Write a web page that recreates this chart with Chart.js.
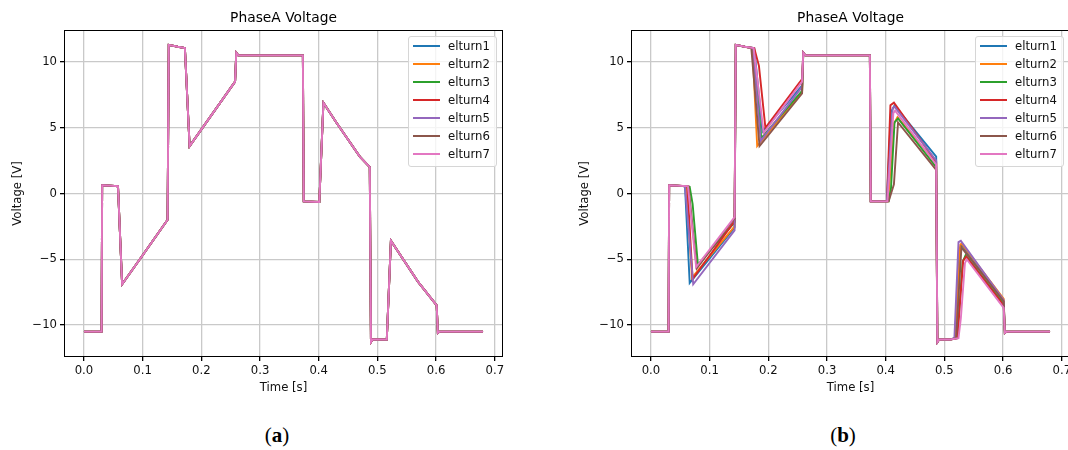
<!DOCTYPE html>
<html>
<head>
<meta charset="utf-8">
<title>PhaseA Voltage</title>
<script src="https://cdn.jsdelivr.net/npm/chart.js@4.4.1/dist/chart.umd.min.js"></script>
<style>
  html, body { margin: 0; padding: 0; background: #fff; overflow: hidden; }
  #page { position: relative; width: 1068px; height: 450px; overflow: hidden; font-family: "DejaVu Sans", sans-serif; }
  .panel { position: absolute; top: 0; width: 534px; height: 399px; }
  .legend { position: absolute; left: 408px; top: 36px; width: 87px; height: 129px;
            border: 1px solid #d6d6d6; border-radius: 3px; background: rgba(255,255,255,0.8); }
  .legend .swatch { position: absolute; left: 4px; width: 27px; height: 2px; }
  .legend .label { position: absolute; left: 39px; font-size: 11.7px; line-height: 14px; color: #111; }
  .caption { position: absolute; top: 423px; font-family: "Liberation Serif", "DejaVu Serif", serif; font-size: 21px; color: #000; transform: translateX(-50%); }
  .caption b { font-weight: bold; }
</style>
</head>
<body>
<div id="page">
  <div class="panel" style="left:0"><canvas id="panel-a"></canvas><div class="legend" id="legend-a"></div></div>
  <div class="panel" style="left:567px"><canvas id="panel-b"></canvas><div class="legend" id="legend-b"></div></div>
  <div class="caption" style="left:277px">(<b>a</b>)</div>
  <div class="caption" style="left:843px">(<b>b</b>)</div>
</div>
<script>
// Tick positions
const xTicks = [0, 0.1, 0.2, 0.3, 0.4, 0.5, 0.6, 0.7];
const yTicks = [-10, -5, 0, 5, 10];

const turnNames = ['elturn1', 'elturn2', 'elturn3', 'elturn4', 'elturn5', 'elturn6', 'elturn7'];
const turnColors = ['#1f77b4', '#ff7f0e', '#2ca02c', '#d62728', '#9467bd', '#8c564b', '#e377c2'];

// (a) every turn gives the same waveform
const baseTime = [0, 0.030, 0.031, 0.045, 0.058, 0.065, 0.100, 0.1425, 0.1445, 0.160, 0.172, 0.180, 0.2575,
  0.2595, 0.263, 0.373, 0.3745, 0.401, 0.408, 0.430, 0.470, 0.487, 0.489, 0.492, 0.516, 0.523, 0.569, 0.601,
  0.603, 0.606, 0.680];
const baseVolt = [-10.5, -10.5, 0.62, 0.60, 0.55, -6.9, -4.7, -2.0, 11.3, 11.15, 11.05, 3.6, 8.5,
  10.7, 10.5, 10.5, -0.6, -0.65, 6.9, 5.4, 2.8, 2.0, -11.3, -11.1, -11.1, -3.6, -6.7, -8.5,
  -10.6, -10.5, -10.5];

// (b) per-turn waveforms
const turn1Time = [0, 0.030, 0.031, 0.045, 0.058, 0.066, 0.1425, 0.1445, 0.160, 0.176, 0.190, 0.2575, 0.2595, 0.263,
  0.373, 0.3745, 0.390, 0.402, 0.409, 0.415, 0.486, 0.488, 0.491, 0.510, 0.518, 0.526, 0.529, 0.601, 0.603, 0.606, 0.680];
const turn1Volt = [-10.5, -10.5, 0.62, 0.60, 0.55, -6.8, -2.6, 11.3, 11.15, 11.05, 4.7, 8.2, 10.7, 10.5,
  10.5, -0.6, -0.6, -0.6, 6.2, 6.7, 2.8, -11.3, -11.1, -11.1, -11.0, -4.2, -3.9, -8.2, -10.6, -10.5, -10.5];

const turn2Time = [0, 0.030, 0.031, 0.045, 0.060, 0.070, 0.1425, 0.1445, 0.160, 0.173, 0.181, 0.2575, 0.2595, 0.263,
  0.373, 0.3745, 0.390, 0.404, 0.414, 0.420, 0.486, 0.488, 0.491, 0.510, 0.519, 0.527, 0.529, 0.601, 0.603, 0.606, 0.680];
const turn2Volt = [-10.5, -10.5, 0.62, 0.60, 0.55, -6.4, -2.5, 11.3, 11.15, 11.05, 3.6, 7.7, 10.7, 10.5,
  10.5, -0.6, -0.6, -0.6, 5.3, 5.8, 2.3, -11.3, -11.1, -11.1, -11.0, -3.9, -3.8, -8.0, -10.6, -10.5, -10.5];

const turn3Time = [0, 0.030, 0.031, 0.045, 0.066, 0.071, 0.080, 0.1425, 0.1445, 0.160, 0.174, 0.188, 0.2575, 0.2595, 0.263,
  0.373, 0.3745, 0.390, 0.405, 0.409, 0.415, 0.421, 0.486, 0.488, 0.491, 0.510, 0.522, 0.531, 0.536, 0.601, 0.603, 0.606, 0.680];
const turn3Volt = [-10.5, -10.5, 0.62, 0.60, 0.50, -0.8, -5.4, -2.2, 11.3, 11.15, 11.05, 4.2, 7.8, 10.7, 10.5,
  10.5, -0.6, -0.6, -0.6, 0.4, 5.4, 5.7, 2.0, -11.3, -11.1, -11.1, -11.0, -5.2, -4.7, -8.4, -10.6, -10.5, -10.5];

const turn4Time = [0, 0.030, 0.031, 0.045, 0.062, 0.071, 0.1425, 0.1445, 0.160, 0.176, 0.184, 0.195, 0.2575, 0.2595, 0.263,
  0.373, 0.3745, 0.390, 0.402, 0.408, 0.414, 0.486, 0.488, 0.491, 0.510, 0.522, 0.532, 0.537, 0.601, 0.603, 0.606, 0.680];
const turn4Volt = [-10.5, -10.5, 0.62, 0.60, 0.55, -6.5, -2.1, 11.3, 11.15, 11.05, 9.7, 5.0, 8.7, 10.7, 10.5,
  10.5, -0.6, -0.6, -0.6, 6.7, 6.9, 2.4, -11.3, -11.1, -11.1, -11.0, -5.1, -4.8, -8.5, -10.6, -10.5, -10.5];

const turn5Time = [0, 0.030, 0.031, 0.045, 0.058, 0.072, 0.1425, 0.1445, 0.160, 0.174, 0.187, 0.2575, 0.2595, 0.263,
  0.373, 0.3745, 0.390, 0.402, 0.412, 0.415, 0.486, 0.488, 0.491, 0.510, 0.517, 0.524, 0.528, 0.601, 0.603, 0.606, 0.680];
const turn5Volt = [-10.5, -10.5, 0.62, 0.60, 0.55, -6.9, -2.8, 11.3, 11.15, 11.05, 4.0, 8.1, 10.7, 10.5,
  10.5, -0.6, -0.6, -0.6, 6.5, 6.6, 2.5, -11.3, -11.1, -11.1, -11.0, -3.7, -3.6, -8.1, -10.6, -10.5, -10.5];

const turn6Time = [0, 0.030, 0.031, 0.045, 0.064, 0.078, 0.1425, 0.1445, 0.160, 0.171, 0.185, 0.2575, 0.2595, 0.263,
  0.373, 0.3745, 0.390, 0.405, 0.414, 0.421, 0.486, 0.488, 0.491, 0.510, 0.520, 0.529, 0.601, 0.603, 0.606, 0.680];
const turn6Volt = [-10.5, -10.5, 0.62, 0.60, 0.55, -5.7, -1.9, 11.3, 11.15, 11.05, 3.6, 7.6, 10.7, 10.5,
  10.5, -0.6, -0.6, -0.6, 0.7, 5.4, 1.8, -11.3, -11.1, -11.1, -11.0, -4.1, -8.2, -10.6, -10.5, -10.5];

const turn7Time = [0, 0.030, 0.031, 0.045, 0.063, 0.077, 0.1425, 0.1445, 0.160, 0.175, 0.192, 0.2575, 0.2595, 0.263,
  0.373, 0.3745, 0.390, 0.403, 0.413, 0.416, 0.486, 0.488, 0.491, 0.510, 0.524, 0.528, 0.535, 0.538, 0.601, 0.603, 0.606, 0.680];
const turn7Volt = [-10.5, -10.5, 0.62, 0.60, 0.55, -5.6, -1.8, 11.3, 11.15, 11.05, 4.6, 8.5, 10.7, 10.5,
  10.5, -0.6, -0.6, -0.6, 6.1, 6.3, 2.2, -11.3, -11.1, -11.1, -11.0, -9.5, -5.3, -5.0, -8.7, -10.6, -10.5, -10.5];

const FONT = '"DejaVu Sans", sans-serif';
const TEXT_SIZE = 11.7;
const GRID = '#c9c9c9';

function toPoints(times, volts) {
    return times.map((t, i) => ({ x: t, y: volts[i] }));
}

// black box round the plot area
const framePlugin = {
    id: 'frame',
    afterDraw(chart) {
        const { ctx, chartArea: a } = chart;
        ctx.save();
        ctx.strokeStyle = '#000';
        ctx.lineWidth = 1;
        ctx.strokeRect(Math.round(a.left) + 0.5, Math.round(a.top) + 0.5,
            Math.round(a.right - a.left) - 1, Math.round(a.bottom - a.top) - 1);
        ctx.restore();
    }
};

function buildLegend(el, chart) {
    chart.data.datasets.forEach((ds, i) => {
        const cy = 9 + i * 18;
        const sw = document.createElement('div');
        sw.className = 'swatch';
        sw.style.top = (cy - 1) + 'px';
        sw.style.background = ds.borderColor;
        const lb = document.createElement('div');
        lb.className = 'label';
        lb.style.top = (cy - 7) + 'px';
        lb.textContent = ds.label;
        el.appendChild(sw);
        el.appendChild(lb);
    });
}

function makePanel(canvasId, legendId, seriesList) {
    const datasets = seriesList.map(([times, volts], i) => ({
        label: turnNames[i],
        data: toPoints(times, volts),
        borderColor: turnColors[i],
        backgroundColor: turnColors[i],
        borderWidth: 1.9,
        pointRadius: 0,
        tension: 0,
        fill: false,
        order: seriesList.length - 1 - i   // last turn drawn on top
    }));

    const chart = new Chart(document.getElementById(canvasId), {
        type: 'line',
        data: { datasets },
        plugins: [framePlugin],
        options: {
            responsive: false,
            animation: false,
            devicePixelRatio: 1,
            layout: { padding: { left: 7, right: 31, top: 0, bottom: 0 } },
            plugins: {
                legend: { display: false },
                tooltip: { enabled: false },
                title: {
                    display: true,
                    text: 'PhaseA Voltage',
                    fullSize: false,
                    color: '#000',
                    font: { family: FONT, size: 13.8, weight: 'normal' },
                    padding: { top: 10, bottom: 3.4 }
                }
            },
            scales: {
                x: {
                    type: 'linear',
                    min: -0.034,
                    max: 0.714,
                    afterBuildTicks: s => { s.ticks = xTicks.map(v => ({ value: v })); },
                    afterFit: s => { s.height = 42; },
                    border: { display: false },
                    grid: { color: GRID, lineWidth: 1.3, tickLength: 4, tickColor: '#000' },
                    ticks: { color: '#111', padding: 3, maxRotation: 0, font: { family: FONT, size: TEXT_SIZE },
                             callback: v => v.toFixed(1) },
                    title: { display: true, text: 'Time [s]', color: '#111', font: { family: FONT, size: TEXT_SIZE },
                             padding: { top: 4, bottom: 4 } }
                },
                y: {
                    min: -12.43,
                    max: 12.43,
                    afterBuildTicks: s => { s.ticks = yTicks.map(v => ({ value: v })); },
                    afterFit: s => { s.width = 57; },
                    border: { display: false },
                    grid: { color: GRID, lineWidth: 1.3, tickLength: 4, tickColor: '#000' },
                    ticks: { color: '#111', padding: 3, font: { family: FONT, size: TEXT_SIZE },
                             callback: v => String(v).replace('-', '\u2212') },
                    title: { display: true, text: 'Voltage [V]', color: '#111', font: { family: FONT, size: TEXT_SIZE },
                             padding: { top: 4, bottom: 4 } }
                }
            }
        }
    });
    buildLegend(document.getElementById(legendId), chart);
    return chart;
}

function sizeCanvas(id) {
    const c = document.getElementById(id);
    c.width = 534;
    c.height = 399;
    c.style.width = '534px';
    c.style.height = '399px';
}
sizeCanvas('panel-a');
sizeCanvas('panel-b');

makePanel('panel-a', 'legend-a', turnNames.map(() => [baseTime, baseVolt]));
makePanel('panel-b', 'legend-b', [
    [turn1Time, turn1Volt],
    [turn2Time, turn2Volt],
    [turn3Time, turn3Volt],
    [turn4Time, turn4Volt],
    [turn5Time, turn5Volt],
    [turn6Time, turn6Volt],
    [turn7Time, turn7Volt]
]);
</script>
</body>
</html>
